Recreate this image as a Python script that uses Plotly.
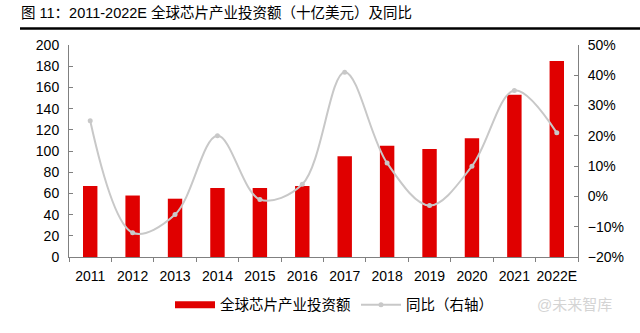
import plotly.graph_objects as go

years = ["2011", "2012", "2013", "2014", "2015", "2016", "2017", "2018", "2019", "2020", "2021", "2022E"]
invest = [67, 58, 55, 65, 65, 67, 95, 105, 102, 112, 153, 185]
yoy = [0.25, -0.12, -0.06, 0.20, -0.01, 0.04, 0.41, 0.11, -0.03, 0.10, 0.35, 0.21]

FONT = "Liberation Sans, Arial, Noto Sans CJK SC, sans-serif"
CJK = "Liberation Sans, Noto Sans CJK SC, sans-serif"
RED = "#E00000"
GRAY = "#C8C8C8"

fig = go.Figure()
fig.add_trace(go.Bar(
    x=years, y=invest, name="全球芯片产业投资额",
    marker=dict(color=RED, line=dict(width=0)),
    width=0.34, showlegend=False,
))
# legend proxy for bar (wide red swatch)
fig.add_trace(go.Scatter(
    x=[None], y=[None], name="全球芯片产业投资额", mode="lines",
    line=dict(color=RED, width=7),
))
fig.add_trace(go.Scatter(
    x=years, y=yoy, name="同比（右轴）", yaxis="y2",
    mode="lines+markers",
    line=dict(color=GRAY, width=2, shape="spline", smoothing=1.0),
    marker=dict(color=GRAY, size=5),
))

PY = lambda px: (262 - px) / 217
PX = lambda px: (px - 69) / 509

fig.update_layout(
    width=640, height=333,
    margin=dict(l=69, r=62, t=45, b=71),
    paper_bgcolor="white", plot_bgcolor="white",
    font=dict(family=FONT, size=14, color="#000000"),
    title=dict(
        text="图 11：2011-2022E 全球芯片产业投资额（十亿美元）及同比",
        x=21 / 640, xanchor="left", xref="container",
        y=1 - 13 / 333, yanchor="middle", yref="container",
        font=dict(family=CJK, size=14.5, color="#000000"),
    ),
    showlegend=True,
    legend=dict(orientation="h", x=PX(170), y=PY(311), xanchor="left", yanchor="middle",
                font=dict(family=CJK, size=14.5, color="#000000"),
                itemwidth=40, tracegroupgap=0, bgcolor="rgba(0,0,0,0)"),
    xaxis=dict(
        type="category", showgrid=False,
        showline=True, linecolor="#808080", linewidth=1,
        ticks="outside", ticklen=4, tickcolor="#808080",
        tickson="boundaries", tickangle=0, ticklabelstandoff=6,
        tickfont=dict(size=14), range=[-0.5, 11.5],
    ),
    yaxis=dict(
        range=[0, 200], dtick=20, showgrid=False, zeroline=False,
        showline=True, linecolor="#808080", linewidth=1,
        ticks="inside", ticklen=4, tickcolor="#808080",
        tickfont=dict(size=14), ticklabelstandoff=6,
    ),
    yaxis2=dict(
        range=[-0.2, 0.5], dtick=0.1, tickformat=".0%", overlaying="y", side="right",
        showgrid=False, zeroline=False,
        showline=True, linecolor="#808080", linewidth=1,
        ticks="inside", ticklen=4, tickcolor="#808080",
        tickfont=dict(size=14), ticklabelstandoff=6,
    ),
    bargap=0.66,
)

fig.add_shape(type="line", xref="paper", yref="paper",
              x0=PX(20), x1=PX(640), y0=PY(28), y1=PY(28),
              line=dict(color="#000000", width=2.5))

fig.add_annotation(
    text="@未来智库", xref="paper", yref="paper",
    x=PX(614), y=PY(311), xanchor="right", yanchor="middle",
    showarrow=False, font=dict(family=CJK, size=15, color="#D4D4D4"),
)

fig.write_html("out.html")
